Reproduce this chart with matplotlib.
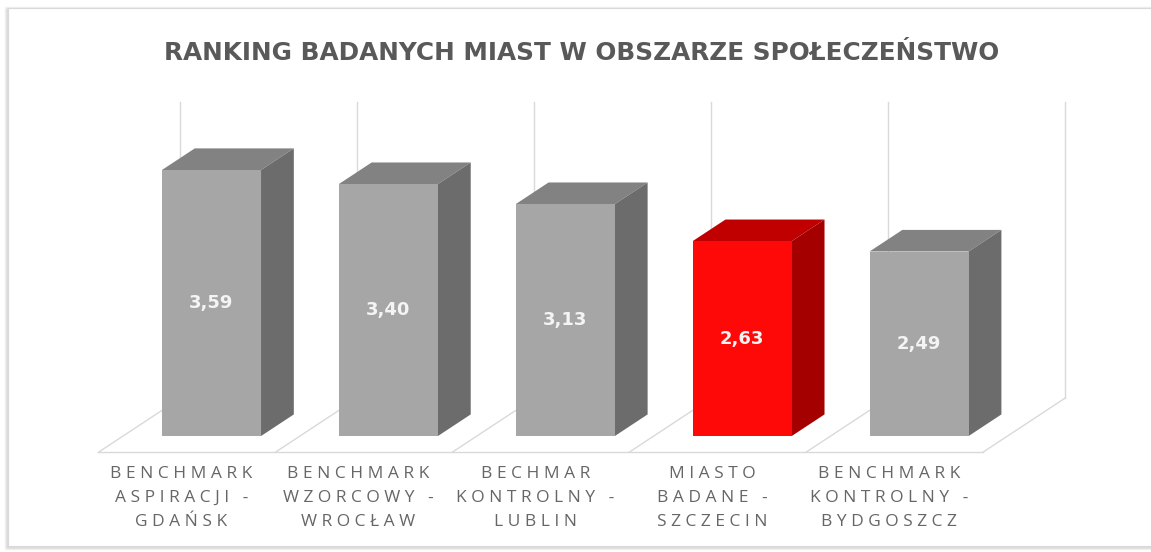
import matplotlib
matplotlib.use("Agg")
import matplotlib.pyplot as plt
import matplotlib.patches as patches
import numpy as np

# dane
kategorie = [
    ["BENCHMARK", "ASPIRACJI -", "GDAŃSK"],
    ["BENCHMARK", "WZORCOWY -", "WROCŁAW"],
    ["BECHMAR", "KONTROLNY -", "LUBLIN"],
    ["MIASTO", "BADANE -", "SZCZECIN"],
    ["BENCHMARK", "KONTROLNY -", "BYDGOSZCZ"],
]
wartosci = [3.59, 3.40, 3.13, 2.63, 2.49]
etykiety = ["3,59", "3,40", "3,13", "2,63", "2,49"]
wyrozniony = 3  # miasto badane
tytul = "RANKING BADANYCH MIAST W OBSZARZE SPOŁECZEŃSTWO"
y_max = 4

# kolory (przód, góra, bok)
SZARY = ("#A6A6A6", "#828282", "#6C6C6C")
CZERWONY = ("#FF0808", "#C00000", "#A50000")

# geometria pseudo-3D (w jednostkach danych)
SZER = 0.56
GLEB_X, GLEB_Y = 0.4635, 0.7287    # pełna głębokość podłogi
PRZOD = 0.3                        # przód słupka jako ułamek głębokości
BOK = 0.4                          # głębokość słupka

fig = plt.figure(figsize=(11.51, 5.52), dpi=100)
ax = fig.add_axes([0, 0, 1, 1])
ax.set_zorder(2)
ax.set_xlim(-1.1956, 5.311)
ax.set_ylim(-1.565, 5.884)
ax.axis("off")

# ramka wykresu z lekkim cieniem
for i, a in enumerate([0.05, 0.08, 0.12]):
    fig.patches.append(patches.Rectangle(
        ((5 + i) / 1151, (3 + i) / 552), 1.2, (542 - 2 * i) / 552,
        transform=fig.transFigure, facecolor="none",
        edgecolor=(0, 0, 0, a), linewidth=1.0, zorder=-2))
fig.patches.append(patches.Rectangle(
    (8 / 1151, 6 / 552), 1.2, 538 / 552, transform=fig.transFigure,
    facecolor="white", edgecolor="#D9D9D9", linewidth=0.8, zorder=-1))

n = len(wartosci)
x = np.arange(n)
px = -0.5 - PRZOD * GLEB_X          # przednia krawędź podłogi (x)
py = -PRZOD * GLEB_Y                # przednia krawędź podłogi (y)

# podłoga
kol_siatki = "#D9D9D9"
ax.plot([px, px + n], [py, py], color=kol_siatki, lw=1.0, zorder=1)
for k in range(n + 1):
    ax.plot([px + k, px + k + GLEB_X], [py, py + GLEB_Y],
            color=kol_siatki, lw=1.0, zorder=1)
    # pionowe linie siatki na tylnej ścianie
    ax.plot([px + k + GLEB_X] * 2, [py + GLEB_Y, py + GLEB_Y + y_max],
            color=kol_siatki, lw=1.0, zorder=1)

# słupki
kolory = [CZERWONY if i == wyrozniony else SZARY for i in range(n)]
ax.bar(x, wartosci, width=SZER, color=[c[0] for c in kolory], zorder=3)
dx, dy = BOK * GLEB_X, BOK * GLEB_Y
for xi, v, c in zip(x, wartosci, kolory):
    l, r = xi - SZER / 2, xi + SZER / 2
    gora = [(l, v), (r, v), (r + dx, v + dy), (l + dx, v + dy)]
    bok = [(r, 0), (r + dx, dy), (r + dx, v + dy), (r, v)]
    ax.add_patch(patches.Polygon(gora, closed=True, facecolor=c[1],
                                 edgecolor="none", zorder=2))
    ax.add_patch(patches.Polygon(bok, closed=True, facecolor=c[2],
                                 edgecolor="none", zorder=2))

# etykiety wartości
for xi, v, t in zip(x, wartosci, etykiety):
    ax.text(xi, v / 2, t, ha="center", va="center", color="#F4F4F4",
            fontsize=13, fontweight="bold", family="DejaVu Sans", zorder=4)

# etykiety kategorii (rozstrzelone litery)
def rozstrzel(s):
    return " ".join(s)

for i, linie in enumerate(kategorie):
    xc = i - PRZOD * GLEB_X - 0.03
    for j, linia in enumerate(linie):
        ax.text(xc, -0.51 - j * 0.323, rozstrzel(linia), ha="center",
                va="center", color="#666666", fontsize=12.5,
                family="Open Sans")

fig.text(0.505, 0.904, tytul, ha="center", va="center", color="#595959",
         fontsize=17.8, fontweight="bold", family="DejaVu Sans")

plt.savefig("out.png", dpi=100)
